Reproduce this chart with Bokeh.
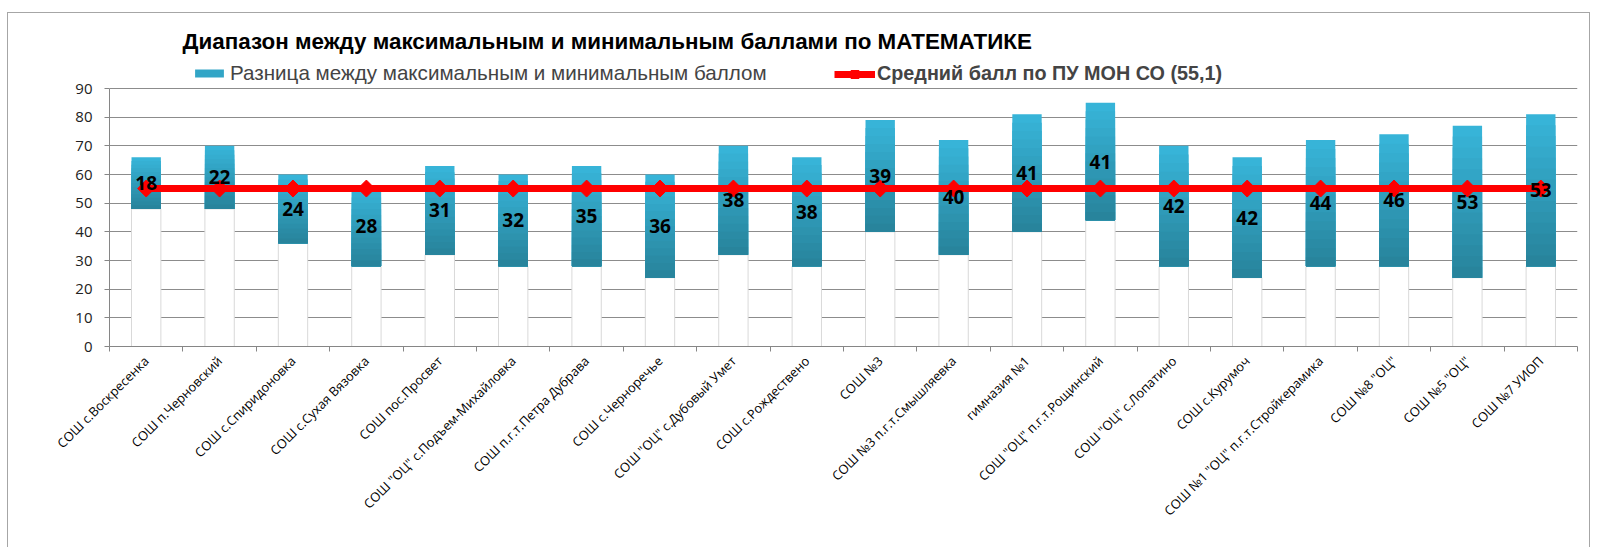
from math import pi
from bokeh.plotting import figure
from bokeh.models import Range1d, FixedTicker, Legend, LegendItem, Label
from bokeh.embed import file_html
from bokeh.resources import INLINE
from bokeh.core.properties import value

# ---------------- data ----------------
schools = [
    "СОШ с.Воскресенка",
    "СОШ п.Черновский",
    "СОШ с.Спиридоновка",
    "СОШ с.Сухая Вязовка",
    "СОШ пос.Просвет",
    'СОШ "ОЦ" с.Подъем-Михайловка',
    "СОШ п.г.т.Петра Дубрава",
    "СОШ с.Черноречье",
    'СОШ "ОЦ" с.Дубовый Умет',
    "СОШ с.Рождествено",
    "СОШ №3",
    "СОШ №3 п.г.т.Смышляевка",
    "гимназия №1",
    'СОШ "ОЦ" п.г.т.Рощинский',
    'СОШ "ОЦ" с.Лопатино',
    "СОШ с.Курумоч",
    'СОШ №1 "ОЦ" п.г.т.Стройкерамика',
    'СОШ №8 "ОЦ"',
    'СОШ №5 "ОЦ"',
    "СОШ №7 УИОП",
]
min_scores = [48, 48, 36, 28, 32, 28, 28, 24, 32, 28, 40, 32, 40, 44, 28, 24, 28, 28, 24, 28]
score_ranges = [18, 22, 24, 28, 31, 32, 35, 36, 38, 38, 39, 40, 41, 41, 42, 42, 44, 46, 53, 53]
avg_score = 55.1
y_ticks = [0, 10, 20, 30, 40, 50, 60, 70, 80, 90]
title_text = "Диапазон между максимальным и минимальным баллами по МАТЕМАТИКЕ"
series_names = ["Разница между максимальным и минимальным баллом",
                "Средний балл по ПУ МОН СО (55,1)"]

# ---------------- layout (page pixels) ----------------
CANVAS_LEFT = 8      # page x of the canvas (after margin + border)
CANVAS_TOP = 13      # page y of the canvas
FRAME_LEFT = 109
FRAME_RIGHT = 1577
FRAME_TOP = 15
AXIS_TOP = 88        # page y of value 90
AXIS_BOTTOM = 346    # page y of value 0
WIDTH = 1583
HEIGHT = 548 - CANVAS_TOP
y_end = 90 * (AXIS_BOTTOM - FRAME_TOP) / (AXIS_BOTTOM - AXIS_TOP)

# ---------------- derived ----------------
n = len(schools)
xs = list(range(n))
mids = [m + r / 2 for m, r in zip(min_scores, score_ranges)]
avg_line = [avg_score] * n

LIGHT = (0x37, 0xB4, 0xD8)
DARK = (0x28, 0x84, 0x9C)
LAYERS = 14


def mix(t):
    return "#%02x%02x%02x" % tuple(round(a + (b - a) * t) for a, b in zip(LIGHT, DARK))


p = figure(width=WIDTH, height=HEIGHT, title=None,
           x_range=Range1d(-0.5, n - 0.5), y_range=Range1d(0, y_end),
           output_backend="svg", toolbar_location=None,
           min_border_left=FRAME_LEFT - CANVAS_LEFT,
           min_border_right=CANVAS_LEFT + WIDTH - FRAME_RIGHT,
           min_border_top=FRAME_TOP - CANVAS_TOP,
           min_border_bottom=CANVAS_TOP + HEIGHT - AXIS_BOTTOM)
p.styles = {"margin-left": "7px", "margin-top": "12px",
            "border-top": "1px solid #a6a6a6", "border-left": "1px solid #a6a6a6",
            "border-right": "1px solid #a6a6a6"}
p.outline_line_color = None
p.background_fill_color = "white"
p.border_fill_color = "white"

# axes
xa = p.xaxis[0]
xa.ticker = FixedTicker(ticks=xs, minor_ticks=[i - 0.5 for i in range(n + 1)])
xa.major_label_overrides = {i: s for i, s in enumerate(schools)}
xa.major_label_orientation = pi / 4
xa.major_tick_out = 0
xa.major_tick_in = 0
xa.minor_tick_out = 5
xa.minor_tick_in = 0
xa.minor_tick_line_color = "#868686"
xa.axis_line_color = "#868686"
xa.major_label_text_font = "Open Sans"
xa.major_label_text_font_size = "12.8px"
xa.major_label_text_color = "#000000"
xa.major_label_standoff = 7

ya = p.yaxis[0]
ya.ticker = FixedTicker(ticks=y_ticks)
ya.bounds = (0, 90)
ya.major_tick_out = 5
ya.major_tick_in = 0
ya.minor_tick_line_color = None
ya.major_tick_line_color = "#868686"
ya.axis_line_color = "#868686"
ya.major_label_text_font = "Open Sans"
ya.major_label_text_font_size = "15px"
ya.major_label_text_color = "#222222"
ya.major_label_standoff = 12

p.xgrid.grid_line_color = None
p.ygrid.grid_line_color = "#8c8c8c"
p.ygrid.grid_line_width = 1

# invisible base bars (min score)
p.vbar(x=xs, bottom=0, top=min_scores, width=0.4,
       fill_color="white", line_color="#d9d9d9", line_width=1)

# range bars with a vertical gradient (light top -> dark bottom)
bar_renderers = []
for k in range(LAYERS):
    frac = 1 - k / LAYERS
    tops = [m + r * frac for m, r in zip(min_scores, score_ranges)]
    r_ = p.vbar(x=xs, bottom=min_scores, top=tops, width=0.4,
                fill_color=mix(k / (LAYERS - 1)), line_color=None)
    bar_renderers.append(r_)

# average line
line_r = p.line(xs, avg_line, line_color="#ff0000", line_width=7)
mark_r = p.scatter(xs, avg_line, marker="square", angle=pi / 4, size=12,
                   fill_color="#ff0000", line_color="#ff0000")

# data labels
p.text(x=xs, y=mids, text=[str(v) for v in score_ranges],
       text_align="center", text_baseline="middle",
       text_font=value("Open Sans"), text_font_style="bold",
       text_font_size="19px", text_color="#000000")

# title (inside the drawing area, above the value axis)
p.add_layout(Label(x=182 - FRAME_LEFT, y=AXIS_BOTTOM - 41, x_units="screen", y_units="screen",
                   text=title_text, text_font="Liberation Sans",
                   text_font_style="bold", text_font_size="22.4px",
                   text_baseline="middle", text_color="#000000"))

# legends
LEG_Y = AXIS_BOTTOM - 85
leg1 = Legend(items=[LegendItem(label=series_names[0], renderers=[bar_renderers[LAYERS // 3]])],
              location=(191 - FRAME_LEFT, LEG_Y), glyph_width=36, glyph_height=10,
              label_standoff=3, padding=0, margin=0, spacing=0,
              border_line_color=None, background_fill_alpha=0,
              label_text_font="Liberation Sans", label_text_font_size="20.6px")
leg2 = Legend(items=[LegendItem(label=series_names[1], renderers=[line_r, mark_r])],
              location=(834 - FRAME_LEFT, LEG_Y), glyph_width=41, glyph_height=20,
              label_standoff=2, padding=0, margin=0, spacing=0,
              border_line_color=None, background_fill_alpha=0,
              label_text_font="Liberation Sans", label_text_font_style="bold",
              label_text_font_size="19.8px")
p.add_layout(leg1, "center")
p.add_layout(leg2, "center")

open("out.html", "w").write(file_html(p, INLINE))
